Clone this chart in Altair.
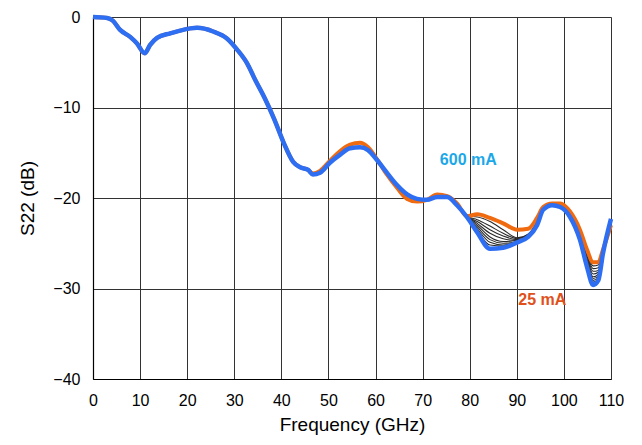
import altair as alt
import pandas as pd

# Frequency grid (GHz)
freq = [0, 3, 4.2, 5.7, 7.9, 9.3, 11.0, 12.1, 13.6, 16.4,
        18.5, 22.1, 25.5, 28.5, 30.6, 32.7, 34.4, 36.5, 38.5, 40.5,
        42.5, 44.0, 45.7, 46.7, 48.2, 50.3, 52.5, 54.6, 56.7, 58.4,
        60.3, 62.4, 64.6, 66.7, 68.8, 70.9, 73.1, 75.2, 77.3, 79.4,
        81.6, 84.3, 87.1, 90.1, 92.4, 94.3, 95.6, 97.5, 99.2, 101.3,
        103.4, 104.9, 106.2, 107.3, 108.3, 110.0]

# S22 (dB) at 600 mA
s22_600mA = [0, -0.1, -0.4, -1.4, -2.2, -2.9, -4.0, -3.1, -2.3, -1.8,
             -1.5, -1.2, -1.6, -2.4, -3.6, -5.1, -6.9, -9.0, -11.3, -13.9,
             -16.0, -16.6, -16.9, -17.4, -17.2, -16.1, -15.2, -14.5, -14.4, -14.7,
             -15.8, -17.2, -18.6, -19.6, -20.1, -20.2, -19.9, -19.9, -20.8, -22.1,
             -23.8, -25.6, -25.5, -24.9, -24.3, -23.0, -21.3, -20.8, -21.0, -22.1,
             -24.6, -27.6, -29.6, -29.1, -26.1, -22.3]

# S22 (dB) at 25 mA
s22_25mA = [0, -0.1, -0.4, -1.4, -2.2, -2.9, -4.0, -3.1, -2.3, -1.8,
            -1.5, -1.2, -1.6, -2.4, -3.6, -5.1, -6.9, -9.0, -11.3, -13.9,
            -16.0, -16.6, -16.9, -17.3, -17.0, -15.9, -14.8, -14.1, -13.9, -14.4,
            -15.7, -17.4, -18.9, -20.1, -20.4, -20.2, -19.6, -19.8, -20.6, -22.0,
            -21.8, -22.2, -22.8, -23.5, -23.4, -22.2, -21.0, -20.6, -20.6, -21.5,
            -23.5, -25.7, -27.1, -27.1, -25.7, -23.0]

# Intermediate bias currents: tail values from 77.3 GHz onwards (head follows 600 mA trace)
tail_start = 38
s22_mid = [
    [-20.7, -22.0, -22.1, -22.6, -23.5, -24.4, -24.0, -22.6, -21.1, -20.6, -20.7, -21.6, -23.7, -26.0, -27.5, -27.4, -25.8, -22.9],
    [-20.7, -22.0, -22.4, -23.1, -23.9, -24.5, -24.0, -22.7, -21.1, -20.6, -20.8, -21.7, -23.8, -26.2, -27.8, -27.7, -25.8, -22.8],
    [-20.7, -22.0, -22.6, -23.5, -24.2, -24.6, -24.1, -22.7, -21.2, -20.7, -20.8, -21.7, -24.0, -26.4, -28.1, -28.0, -25.9, -22.8],
    [-20.7, -22.0, -22.8, -23.9, -24.5, -24.7, -24.1, -22.8, -21.2, -20.7, -20.8, -21.8, -24.1, -26.6, -28.4, -28.2, -25.9, -22.7],
    [-20.7, -22.0, -23.0, -24.3, -24.8, -24.7, -24.2, -22.8, -21.2, -20.7, -20.9, -21.9, -24.2, -26.8, -28.7, -28.4, -26.0, -22.7],
    [-20.7, -22.0, -23.2, -24.6, -25.0, -24.8, -24.2, -22.9, -21.3, -20.8, -20.9, -21.9, -24.3, -27.0, -28.9, -28.6, -26.0, -22.6],
    [-20.7, -22.0, -23.4, -24.9, -25.2, -24.8, -24.3, -22.9, -21.3, -20.8, -21.0, -22.0, -24.4, -27.2, -29.1, -28.8, -26.0, -22.5],
    [-20.7, -22.0, -23.6, -25.2, -25.3, -24.9, -24.3, -23.0, -21.3, -20.8, -21.0, -22.0, -24.5, -27.4, -29.3, -29.0, -26.1, -22.5],
]

label_text = ["600 mA", "25 mA"]
label_freq = [79.7, 95.4]
label_db = [-15.8, -31.3]
label_color = ["#1ba8e8", "#e0501a"]

# Build tables
blue_df = pd.DataFrame({"f": freq, "db": s22_600mA})
orange_df = pd.DataFrame({"f": freq, "db": s22_25mA})
rows = []
for k, tail in enumerate(s22_mid):
    vals = s22_600mA[:tail_start] + tail
    for f, v in zip(freq, vals):
        rows.append({"f": f, "db": v, "curve": f"mid{k}"})
mid_df = pd.DataFrame(rows)

xscale = alt.Scale(domain=[0, 110], nice=False, zero=False)
yscale = alt.Scale(domain=[-40, 0], nice=False, zero=False)

xaxis = alt.Axis(values=list(range(0, 111, 10)), title="Frequency (GHz)", grid=True,
                 gridColor="#333333", gridWidth=1, gridOpacity=1, ticks=False,
                 domainColor="#000000", domainWidth=1.2, labelFlush=False,
                 labelFontSize=16, labelColor="#000000", labelFont="Liberation Sans",
                 labelPadding=13, titleFontSize=19, titleFont="Liberation Sans",
                 titleFontWeight="normal", titleColor="#000000", titlePadding=7)
yaxis = alt.Axis(values=list(range(-40, 1, 10)), title="S22 (dB)", grid=True,
                 gridColor="#333333", gridWidth=1, gridOpacity=1, ticks=False,
                 domainColor="#000000", domainWidth=1.2, labelFlush=False,
                 labelFontSize=16, labelColor="#000000", labelFont="Liberation Sans",
                 labelPadding=13, titleFontSize=19, titleFont="Liberation Sans",
                 titleFontWeight="normal", titleColor="#000000", titlePadding=15)

mid = alt.Chart(mid_df).mark_line(color="#2a2a2a", strokeWidth=1.1, interpolate="monotone").encode(
    x=alt.X("f:Q", scale=xscale, axis=xaxis),
    y=alt.Y("db:Q", scale=yscale, axis=yaxis),
    detail="curve:N",
)
orange = alt.Chart(orange_df).mark_line(color="#f06a10", strokeWidth=4, interpolate="monotone").encode(
    x=alt.X("f:Q", scale=xscale), y=alt.Y("db:Q", scale=yscale))
blue = alt.Chart(blue_df).mark_line(color="#2e6ef2", strokeWidth=4.5, interpolate="monotone").encode(
    x=alt.X("f:Q", scale=xscale), y=alt.Y("db:Q", scale=yscale))

lab_df = pd.DataFrame({"t": label_text, "f": label_freq, "db": label_db, "c": label_color})
labels = alt.Chart(lab_df).mark_text(fontSize=16, fontWeight="bold", font="Liberation Sans",
                                     align="center", baseline="middle").encode(
    x=alt.X("f:Q", scale=xscale), y=alt.Y("db:Q", scale=yscale), text="t:N",
    color=alt.Color("c:N", scale=None))

chart = alt.layer(mid, orange, blue, labels).properties(
    width=518, height=362,
    autosize=alt.AutoSizeParams(type="none"),
    padding={"left": 85, "top": 9, "right": 23, "bottom": 58},
).configure_view(stroke="#000000", strokeWidth=1.2).configure(background="white")

chart.save("out.html", embed_options={"renderer": "svg", "actions": False})
